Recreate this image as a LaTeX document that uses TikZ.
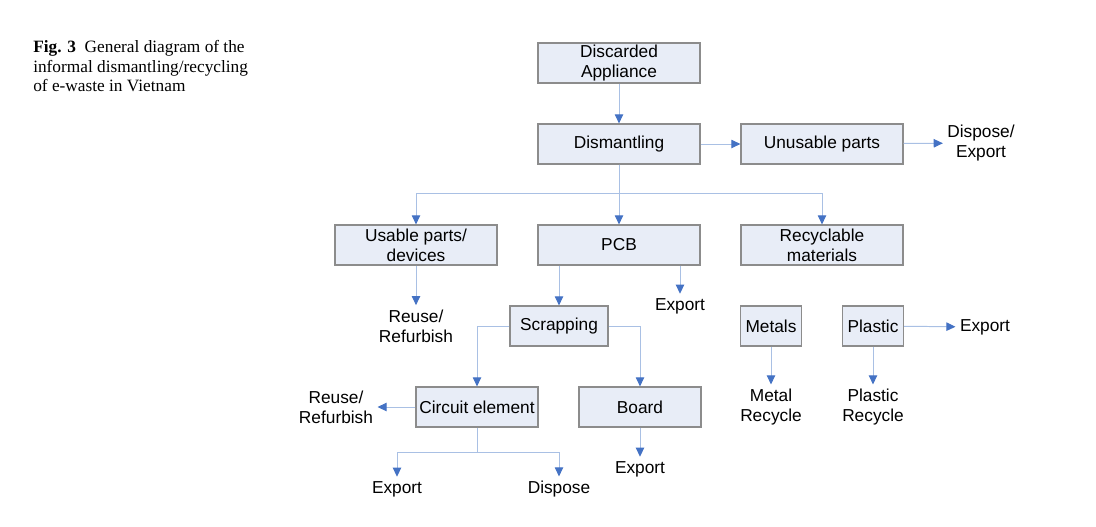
\documentclass[tikz,border=0pt]{standalone}
\usepackage{fontspec}
\setmainfont{Liberation Serif}
\setsansfont{Liberation Sans}
\usepackage{tikz}
\usetikzlibrary{arrows.meta, positioning}
\definecolor{boxFill}{HTML}{E8EDF7}
\definecolor{boxLine}{HTML}{8C8C8C}
\definecolor{flowLine}{HTML}{A9C0E4}
\definecolor{flowTip}{HTML}{4472C4}

\begin{document}
\begin{tikzpicture}[
    x=0.025cm, y=-0.025cm,
    region/.style={draw=boxLine, fill=boxFill, line width=0.8pt, minimum width=4.05cm, minimum height=1cm, inner sep=0pt, align=center, font=\sffamily\fontsize{12.3}{14.2}\selectfont},
    sink/.style={inner sep=3pt, align=center, font=\sffamily\fontsize{12.3}{14.2}\selectfont},
    flow/.style={draw=flowLine, line width=0.7pt, -{Triangle[length=6.5pt, width=6pt, color=flowTip]}},
    link/.style={draw=flowLine, line width=0.7pt},
]
    \useasboundingbox (0,0) rectangle (1096,526);

    % Caption
    \node[anchor=north west, inner sep=0pt, align=left, font=\fontsize{12.3}{13.9}\selectfont] (caption) at (33,40) {\textbf{Fig. 3}\enspace General diagram of the\\informal dismantling/recycling\\of e-waste in Vietnam};

    % Main column
    \node[region] (discard) at (619,63) {Discarded\\Appliance};
    \node[region] (dismantle) at (619,144) {Dismantling};
    \node[region] (unusable) at (822,144) {Unusable parts};
    \node[sink] (dispexp) at (981,143) {Dispose/\\Export};

    % Second row
    \node[region] (usable) at (416,245) {Usable parts/\\devices};
    \node[region] (pcb) at (619,245) {PCB};
    \node[region] (recyc) at (822,245) {Recyclable\\materials};

    % Third row
    \node[sink] (reuseA) at (416,326) {Reuse/\\Refurbish};
    \node[sink] (pcbexp) at (680,306) {Export};
    \node[region, minimum width=2.45cm] (scrap) at (559,326) {Scrapping};
    \node[region, minimum width=1.525cm] (metals) at (771,326) {Metals};
    \node[region, minimum width=1.525cm] (plastic) at (873,326) {Plastic};
    \node[sink] (plexp) at (985,327) {Export};

    % Fourth row
    \node[region, minimum width=3.05cm] (circuit) at (477,407) {Circuit element};
    \node[region, minimum width=3.05cm] (board) at (640,407) {Board};
    \node[sink] (reuseB) at (336,407) {Reuse/\\Refurbish};
    \node[sink] (metrec) at (771,407) {Metal\\Recycle};
    \node[sink] (plrec) at (873,407) {Plastic\\Recycle};

    % Bottom row
    \node[sink] (boardexp) at (640,469) {Export};
    \node[sink] (circexp) at (397,489) {Export};
    \node[sink] (circdisp) at (559,489) {Dispose};

    % Connectors
    \draw[flow] (discard) -- (dismantle);
    \draw[flow] (dismantle) -- (unusable);
    \draw[flow] (unusable) -- (dispexp);
    \draw[flow] (dismantle.south) |- (416,193) -- (usable.north);
    \draw[flow] (dismantle) -- (pcb);
    \draw[flow] (dismantle.south) |- (822,193) -- (recyc.north);
    \draw[flow] (usable) -- (reuseA);
    \draw[flow] (pcb.south -| scrap.north) -- (scrap.north);
    \draw[flow] (pcb.south -| pcbexp.north) -- (pcbexp.north);
    \draw[flow] (scrap.west) -| (circuit.north);
    \draw[flow] (scrap.east) -| (board.north);
    \draw[flow] (circuit) -- (reuseB);
    \draw[link] (circuit.south) -- (477,452) coordinate (split);
    \draw[flow] (split) -| (circexp.north);
    \draw[flow] (split) -| (circdisp.north);
    \draw[flow] (board) -- (boardexp);
    \draw[flow] (metals) -- (metrec);
    \draw[flow] (plastic) -- (plrec);
    \draw[flow] (plastic) -- (plexp);
\end{tikzpicture}
\end{document}
